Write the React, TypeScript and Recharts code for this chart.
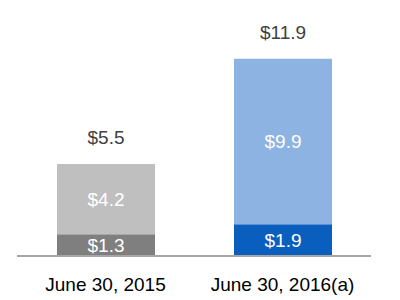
import { BarChart, Bar, XAxis, YAxis, Cell, LabelList } from 'recharts';

const categories = ['June 30, 2015', 'June 30, 2016(a)'];
const baseValues = [1.3, 1.9];
const upperValues = [4.2, 9.9];
const totals = [5.5, 11.9];

const baseColors = ['#7F7F7F', '#0A5EBE'];
const upperColors = ['#BFBFBF', '#8DB3E2'];

const data = categories.map((name, i) => ({
  name,
  base: baseValues[i],
  upper: upperValues[i],
  total: totals[i],
}));

const money = (v: number) => `$${v.toFixed(1)}`;

const FONT = '"Liberation Sans", Arial, sans-serif';

export default function App() {
  return (
    <div style={{ position: 'absolute', left: 0, top: 0, width: 400, height: 300, background: '#fff' }}>
      <BarChart
        width={400}
        height={300}
        data={data}
        margin={{ top: 22, right: 29, left: 17, bottom: 14 }}
        barCategoryGap={0}
        style={{ fontFamily: FONT }}
      >
        <YAxis hide domain={[0, 14]} />
        <XAxis
          dataKey="name"
          height={30}
          tickLine={false}
          axisLine={{ stroke: '#A6A6A6', strokeWidth: 2 }}
          tick={{ fontSize: 19, fill: '#000', fontFamily: FONT }}
          tickMargin={16}
          interval={0}
        />
        <Bar dataKey="base" stackId="s" barSize={98} isAnimationActive={false}>
          {data.map((d, i) => (
            <Cell key={d.name} fill={baseColors[i]} />
          ))}
          <LabelList
            dataKey="base"
            position="center"
            formatter={(v: number) => money(v)}
            style={{ fill: '#fff', fontSize: 19, fontFamily: FONT }}
          />
        </Bar>
        <Bar dataKey="upper" stackId="s" barSize={98} isAnimationActive={false}>
          {data.map((d, i) => (
            <Cell key={d.name} fill={upperColors[i]} />
          ))}
          <LabelList
            dataKey="upper"
            position="center"
            formatter={(v: number) => money(v)}
            style={{ fill: '#fff', fontSize: 19, fontFamily: FONT }}
          />
          <LabelList
            dataKey="total"
            position="top"
            offset={20}
            formatter={(v: number) => money(v)}
            style={{ fill: '#404040', fontSize: 19, fontFamily: FONT }}
          />
        </Bar>
      </BarChart>
    </div>
  );
}
